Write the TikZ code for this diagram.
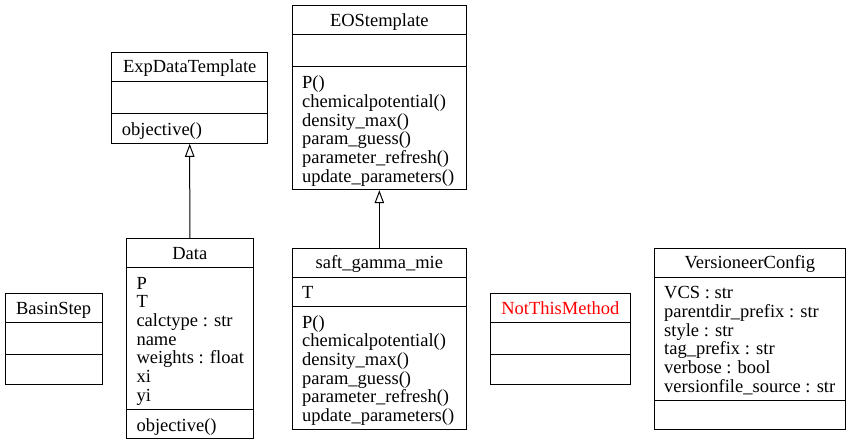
\documentclass[tikz,border=0pt]{standalone}
\usepackage{fontspec}
\setmainfont{Liberation Serif}
\usetikzlibrary{arrows.meta}
\newcommand{\umlfont}{\fontsize{18.5}{18.67}\selectfont}
\newcommand{\fstrut}{\rule{0pt}{15pt}}
\definecolor{umlred}{RGB}{255,0,0}
\begin{document}
\begin{tikzpicture}[x=1pt,y=-1pt,
  cls/.style={draw, line width=1.0pt, inner sep=0pt, rectangle},
  sep/.style={line width=1.0pt},
  ttl/.style={anchor=base, inner sep=0pt, font=\umlfont},
  cmp/.style={anchor=north west, inner sep=0pt, align=left, font=\umlfont},
  inh/.style={line width=1.0pt, -{Triangle[open, width=9.5pt, length=13pt, line width=1.0pt]}}]
\useasboundingbox (0,0) rectangle (851,445);

% BasinStep
\node[cls, minimum width=97.3pt, minimum height=90.3pt] (basin) at (53.65,338.85) {};
\draw[sep] (5,322.5) -- (102.3,322.5);
\draw[sep] (5,354.5) -- (102.3,354.5);
\node[ttl] (basinT) at (53.65,314.3) {BasinStep};

% ExpDataTemplate
\node[cls, minimum width=156pt, minimum height=91pt] (exp) at (189.7,97.8) {};
\draw[sep] (111.7,81.5) -- (267.7,81.5);
\draw[sep] (111.7,113.5) -- (267.7,113.5);
\node[ttl] (expT) at (189.7,72.9) {ExpDataTemplate};
\node[cmp] (expM) at (121.7,120) {\fstrut objective()};

% Data
\node[cls, minimum width=127pt, minimum height=200pt] (data) at (189.8,338.7) {};
\draw[sep] (126.3,267.5) -- (253.3,267.5);
\draw[sep] (126.3,409.5) -- (253.3,409.5);
\node[ttl] (dataT) at (189.8,259.3) {Data};
\node[cmp] (dataA) at (136.3,274) {\fstrut P\\T\\calctype : str\\name\\weights : float\\xi\\yi};
\node[cmp] (dataM) at (136.3,416) {\fstrut objective()};

% EOStemplate
\node[cls, minimum width=174.7pt, minimum height=184pt] (eos) at (379.35,97.7) {};
\draw[sep] (292,34.5) -- (466.7,34.5);
\draw[sep] (292,66.5) -- (466.7,66.5);
\node[ttl] (eosT) at (379.35,26.3) {EOStemplate};
\node[cmp] (eosM) at (302,73.5) {\fstrut P()\\chemicalpotential()\\density\_max()\\param\_guess()\\parameter\_refresh()\\update\_parameters()};

% saft_gamma_mie
\node[cls, minimum width=174.7pt, minimum height=181.3pt] (saft) at (379.35,338.65) {};
\draw[sep] (292,277.5) -- (466.7,277.5);
\draw[sep] (292,306.5) -- (466.7,306.5);
\node[ttl] (saftT) at (379.35,268.6) {saft\_gamma\_mie};
\node[cmp] (saftA) at (302,283.6) {\fstrut T};
\node[cmp] (saftM) at (302,313) {\fstrut P()\\chemicalpotential()\\density\_max()\\param\_guess()\\parameter\_refresh()\\update\_parameters()};

% NotThisMethod
\node[cls, minimum width=140.7pt, minimum height=90.5pt] (ntm) at (560.35,338.75) {};
\draw[sep] (490,322.5) -- (630.7,322.5);
\draw[sep] (490,354.5) -- (630.7,354.5);
\node[ttl, text=umlred] (ntmT) at (560.35,314.1) {NotThisMethod};

% VersioneerConfig
\node[cls, minimum width=191.7pt, minimum height=181.5pt] (vc) at (749.85,338.95) {};
\draw[sep] (654,277.5) -- (845.7,277.5);
\draw[sep] (654,400.5) -- (845.7,400.5);
\node[ttl] (vcT) at (749.85,268.8) {VersioneerConfig};
\node[cmp] (vcA) at (664,283.6) {\fstrut VCS : str\\parentdir\_prefix : str\\style : str\\tag\_prefix : str\\verbose : bool\\versionfile\_source : str};

% inheritance
\draw[inh] (data.north) -- (exp.south);
\draw[inh] (saft.north) -- (eos.south);
\end{tikzpicture}
\end{document}
